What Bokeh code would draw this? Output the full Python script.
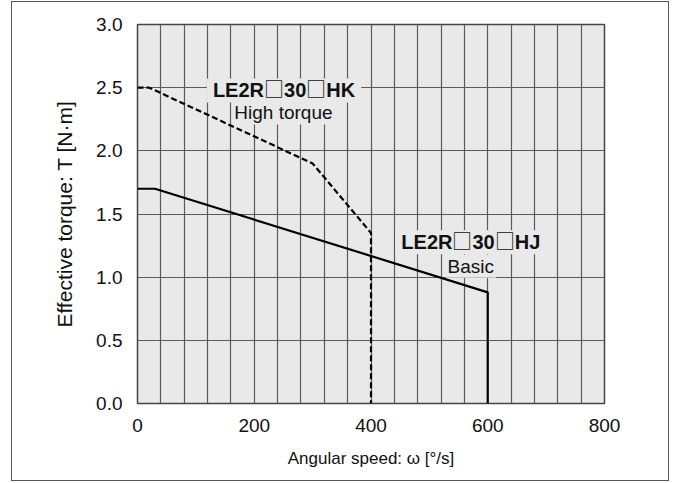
from bokeh.plotting import figure
from bokeh.models import Label, SingleIntervalTicker, FixedTicker, Range1d, CustomJSTickFormatter
from bokeh.models import GlobalInlineStyleSheet
from bokeh.embed import file_html
from bokeh.resources import INLINE

# data
hk_speed = [0, 20, 300, 400, 400]
hk_torque = [2.5, 2.5, 1.9, 1.35, 0.0]
hj_speed = [0, 30, 600, 600]
hj_torque = [1.7, 1.7, 0.88, 0.0]
x_ticks = [0, 200, 400, 600, 800]
y_ticks = [0.0, 0.5, 1.0, 1.5, 2.0, 2.5, 3.0]
hk_name = "LE2R\u25a130\u25a1HK"
hk_desc = "High torque"
hj_name = "LE2R\u25a130\u25a1HJ"
hj_desc = "Basic"

FONT = "Liberation Sans"
NAME_FONT = "SqBox, 'Liberation Sans'"
BG = "#e8e9e8"

css = """
@font-face { font-family: 'SqBox'; src: local('Noto Sans CJK JP'), local('NotoSansCJKjp-Regular'), local('Noto Sans CJK JP Regular'); unicode-range: U+25A1; font-weight: 100 900; }
"""

p = figure(width=658, height=480, output_backend="svg", toolbar_location=None,
           x_range=Range1d(0, 800), y_range=Range1d(0, 3.0),
           min_border_left=125, min_border_right=66, min_border_top=22, min_border_bottom=79,
           background_fill_color=BG)
p.stylesheets = [GlobalInlineStyleSheet(css=css)]
p.styles = {"border": "1.5px solid #555"}
p.margin = (1, 0, 0, 11)

p.outline_line_color = "#444"
p.outline_line_width = 1.5

p.xaxis.ticker = FixedTicker(ticks=x_ticks)
p.yaxis.ticker = FixedTicker(ticks=y_ticks)
p.yaxis.formatter = CustomJSTickFormatter(code="return tick.toFixed(1);")
p.xgrid.ticker = SingleIntervalTicker(interval=40)
p.ygrid.ticker = FixedTicker(ticks=y_ticks)
for g in (p.xgrid, p.ygrid):
    g.grid_line_color = "#5a5a5a"
    g.grid_line_width = 1.2

for ax in (p.xaxis, p.yaxis):
    ax.axis_line_color = None
    ax.major_tick_line_color = None
    ax.minor_tick_line_color = None
    ax.major_label_text_font = FONT
    ax.major_label_text_font_size = "19px"
    ax.major_label_text_color = "#111"
    ax.axis_label_text_font = FONT
    ax.axis_label_text_font_style = "normal"
    ax.axis_label_text_color = "#111"
    ax.major_label_standoff = 9

p.xaxis.axis_label = "Angular speed: \u03c9 [\u00b0/s]"
p.yaxis.axis_label = "Effective torque: T [N\u00b7m]"
p.xaxis.axis_label_text_font_size = "17px"
p.yaxis.axis_label_text_font_size = "21px"
p.xaxis.axis_label_standoff = 14
p.yaxis.axis_label_standoff = 17

p.line(hk_speed, hk_torque, line_color="black", line_width=2.2, line_dash="6 3")
p.line(hj_speed, hj_torque, line_color="black", line_width=2.2)

def lab(x, y, text, font, size, bold, pad):
    return Label(x=x, y=y, text=text, text_font=font, text_font_size=size,
                 text_font_style="bold" if bold else "normal", text_align="center",
                 text_baseline="middle", text_color="#111",
                 background_fill_color=BG, padding=pad)

p.add_layout(lab(251, 2.478, hk_name, NAME_FONT, "20px", True, (6, 1)))
p.add_layout(lab(250, 2.30, hk_desc, FONT, "19px", False, (2, 1)))
p.add_layout(lab(571, 1.277, hj_name, NAME_FONT, "20px", True, (6, 1)))
p.add_layout(lab(571, 1.087, hj_desc, FONT, "19px", False, (2, 1)))

open("out.html", "w").write(file_html(p, INLINE))
